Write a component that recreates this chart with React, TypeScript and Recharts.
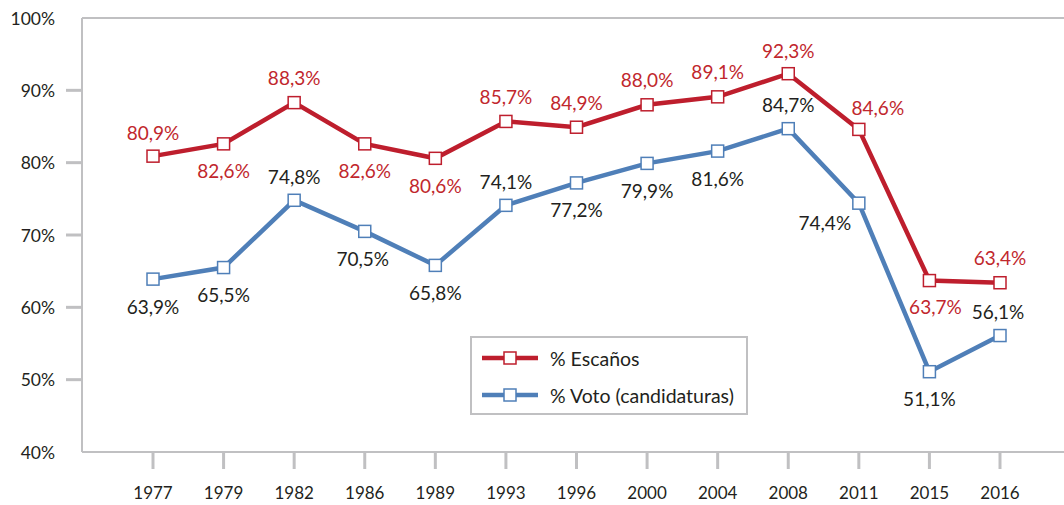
import {
  LineChart,
  Line,
  XAxis,
  YAxis,
  Legend,
  LabelList,
  ReferenceLine,
} from "recharts";

const years = ["1977", "1979", "1982", "1986", "1989", "1993", "1996", "2000", "2004", "2008", "2011", "2015", "2016"];
const escanos = [80.9, 82.6, 88.3, 82.6, 80.6, 85.7, 84.9, 88.0, 89.1, 92.3, 84.6, 63.7, 63.4];
const voto = [63.9, 65.5, 74.8, 70.5, 65.8, 74.1, 77.2, 79.9, 81.6, 84.7, 74.4, 51.1, 56.1];
const yTicks = [40, 50, 60, 70, 80, 90, 100];

// label offsets [dx, dy] from each point
const escanosLabelPos = [
  [0, -24], [0, 27], [0, -25], [0, 27], [0, 27], [0, -25], [0, -25],
  [0, -25], [0, -25], [0, -23], [19, -22], [6, 26], [0, -25],
];
const votoLabelPos = [
  [0, 27], [0, 27], [0, -24], [-2, 27], [0, 27], [0, -24], [0, 27],
  [0, 27], [0, 27], [0, -24], [-34, 19], [0, 27], [-2, -24],
];

const RED = "#BE1E2D";
const BLUE = "#4F7FB8";
const GRAY = "#C0C0C2";
const TEXT = "#231F20";
const FONT = "Lato, 'Noto Sans', sans-serif";

const data = years.map((year, i) => ({ year, escanos: escanos[i], voto: voto[i] }));

const fmt = (v: number) => `${v.toFixed(1).replace(".", ",")}%`;

function SquareDot(color: string) {
  return (props: any) => {
    const { cx, cy, index } = props;
    return (
      <rect
        key={`d-${color}-${index}`}
        x={cx - 6}
        y={cy - 6}
        width={12}
        height={12}
        fill="#fff"
        stroke={color}
        strokeWidth={1.5}
      />
    );
  };
}

function pointLabel(pos: number[][], color: string) {
  return (props: any) => {
    const { x, y, value, index } = props;
    const [dx, dy] = pos[index];
    return (
      <text
        x={x + dx}
        y={y + dy}
        textAnchor="middle"
        dominantBaseline="central"
        fill={color}
        fontSize={19}
        fontFamily={FONT}
      >
        {fmt(value)}
      </text>
    );
  };
}

function YTick(props: any) {
  const { y, payload } = props;
  const v = payload.value;
  return (
    <g>
      {v !== 40 && v !== 100 && (
        <line x1={66} x2={82} y1={y} y2={y} stroke={GRAY} strokeWidth={3} />
      )}
      <text
        x={55}
        y={y}
        textAnchor="end"
        dominantBaseline="central"
        fill={TEXT}
        fontSize={17.5}
        fontFamily={FONT}
      >
        {v}%
      </text>
    </g>
  );
}

function XTick(props: any) {
  const { x, payload } = props;
  return (
    <g>
      <line x1={x} x2={x} y1={453} y2={469} stroke={GRAY} strokeWidth={3} />
      <text
        x={x}
        y={492}
        textAnchor="middle"
        dominantBaseline="central"
        fill={TEXT}
        fontSize={17}
        fontFamily={FONT}
      >
        {payload.value}
      </text>
    </g>
  );
}

function LegendBox() {
  const rows = [
    { name: "% Escaños", color: RED },
    { name: "% Voto (candidaturas)", color: BLUE },
  ];
  return (
    <svg width={278} height={79} style={{ display: "block" }}>
      <rect x={1} y={1} width={276} height={77} fill="#fff" stroke={GRAY} strokeWidth={2} />
      {rows.map((r, i) => {
        const cy = 22 + i * 37;
        return (
          <g key={r.name}>
            <line x1={12} x2={68} y1={cy} y2={cy} stroke={r.color} strokeWidth={4.5} />
            <rect x={34} y={cy - 6} width={12} height={12} fill="#fff" stroke={r.color} strokeWidth={1.5} />
            <text x={80} y={cy} dominantBaseline="central" fill={TEXT} fontSize={19.5} fontFamily={FONT}>
              {r.name}
            </text>
          </g>
        );
      })}
    </svg>
  );
}

export default function App() {
  return (
    <div style={{ width: 1064, height: 505, background: "#fff" }}>
      <style>{`body{margin:0}`}</style>
      <LineChart width={1064} height={505} data={data} margin={{ top: 18, right: 0, bottom: 0, left: 0 }}>
        <ReferenceLine y={100} stroke={GRAY} strokeWidth={2} />
        <XAxis
          dataKey="year"
          padding={{ left: 71, right: 64 }}
          axisLine={{ stroke: GRAY, strokeWidth: 2 }}
          tickLine={false}
          tick={<XTick />}
          interval={0}
          height={53}
        />
        <YAxis
          domain={[40, 100]}
          ticks={yTicks}
          width={82}
          axisLine={{ stroke: GRAY, strokeWidth: 2 }}
          tickLine={false}
          tick={<YTick />}
          interval={0}
        />
        <Legend
          layout="vertical"
          align="center"
          verticalAlign="middle"
          content={() => <LegendBox />}
          wrapperStyle={{ left: 470, top: 336, width: 278, height: 79 }}
        />
        <Line
          dataKey="escanos"
          name="% Escaños"
          stroke={RED}
          strokeWidth={4.5}
          dot={SquareDot(RED)}
          isAnimationActive={false}
        >
          <LabelList dataKey="escanos" content={pointLabel(escanosLabelPos, "#C1272D")} />
        </Line>
        <Line
          dataKey="voto"
          name="% Voto (candidaturas)"
          stroke={BLUE}
          strokeWidth={4.5}
          dot={SquareDot(BLUE)}
          isAnimationActive={false}
        >
          <LabelList dataKey="voto" content={pointLabel(votoLabelPos, TEXT)} />
        </Line>
      </LineChart>
    </div>
  );
}
